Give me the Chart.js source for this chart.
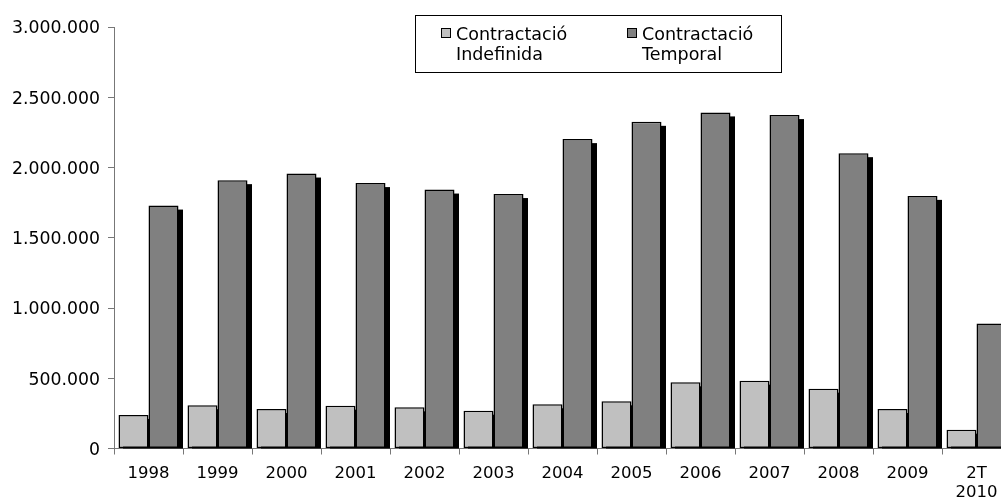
<!DOCTYPE html>
<html>
<head>
<meta charset="utf-8">
<script src="https://cdn.jsdelivr.net/npm/chart.js@4.4.1/dist/chart.umd.min.js"></script>
<style>
  html, body { margin: 0; padding: 0; background: #fff; overflow: hidden; }
  #wrap { width: 1012px; height: 502px; }
</style>
</head>
<body>
<div id="wrap"><canvas id="chart" width="1012" height="502"></canvas></div>
<script>
const years = ["1998", "1999", "2000", "2001", "2002", "2003", "2004", "2005", "2006", "2007", "2008", "2009", ["2T", "2010"]];
const indefinida = [239000, 308000, 281000, 305000, 293000, 269000, 315000, 336000, 471000, 483000, 426000, 281000, 134000];
const temporal = [1729000, 1910000, 1957000, 1889000, 1843000, 1811000, 2202000, 2325000, 2392000, 2373000, 2102000, 1798000, 889000];
const seriesNames = [["Contractació", "Indefinida"], ["Contractació", "Temporal"]];
const seriesColors = ["#c0c0c0", "#808080"];

const FONT = "'DejaVu Sans', Verdana, sans-serif";
const AXIS = "#777";

// black drop shadow behind each bar, like the old Excel look
const barShadow = {
  id: "barShadow",
  beforeDatasetsDraw(chart) {
    const { ctx, chartArea } = chart;
    ctx.save();
    ctx.beginPath();
    ctx.rect(chartArea.left, chartArea.top, chartArea.right - chartArea.left, chartArea.bottom - chartArea.top);
    ctx.clip();
    ctx.fillStyle = "#000";
    chart.data.datasets.forEach((ds, i) => {
      chart.getDatasetMeta(i).data.forEach((bar) => {
        const { x, y, base, width } = bar.getProps(["x", "y", "base", "width"], true);
        ctx.fillRect(x - width / 2 + 4.5, y + 4, width, base - y);
      });
    });
    ctx.restore();
  },
};

// boxed legend with two-line labels
const boxLegend = {
  id: "boxLegend",
  afterDraw(chart) {
    const { ctx } = chart;
    ctx.save();
    ctx.strokeStyle = "#000";
    ctx.lineWidth = 1;
    ctx.strokeRect(415.5, 15.5, 366, 57);
    ctx.font = "17.5px " + FONT;
    ctx.textBaseline = "alphabetic";
    const starts = [441, 627];
    chart.data.datasets.forEach((ds, i) => {
      const x = starts[i];
      ctx.fillStyle = ds.backgroundColor;
      ctx.fillRect(x + 0.5, 28.5, 9, 9);
      ctx.strokeStyle = "#000";
      ctx.strokeRect(x + 0.5, 28.5, 9, 9);
      ctx.fillStyle = "#000";
      ds.label.forEach((line, j) => ctx.fillText(line, x + 15, 39.5 + j * 20));
    });
    ctx.restore();
  },
};

new Chart(document.getElementById("chart"), {
  type: "bar",
  data: {
    labels: years,
    datasets: [
      {
        label: seriesNames[0],
        data: indefinida,
        backgroundColor: seriesColors[0],
        borderColor: "#000",
        borderWidth: 1.5,
        borderSkipped: false,
      },
      {
        label: seriesNames[1],
        data: temporal,
        backgroundColor: seriesColors[1],
        borderColor: "#000",
        borderWidth: 1.5,
        borderSkipped: false,
      },
    ],
  },
  options: {
    responsive: false,
    animation: false,
    layout: { padding: { top: 27, right: 1, left: 0, bottom: 0 } },
    plugins: {
      legend: { display: false },
      tooltip: { enabled: false },
    },
    datasets: {
      bar: { categoryPercentage: 0.8696, barPercentage: 1 },
    },
    scales: {
      x: {
        grid: { display: true, drawOnChartArea: false, color: AXIS, tickLength: 6, offset: true },
        border: { display: true, color: AXIS, width: 1 },
        ticks: { color: "#000", font: { family: FONT, size: 16.5 }, padding: 9, maxRotation: 0, autoSkip: false },
        afterFit(scale) { scale.height = 53.5; },
      },
      y: {
        min: 0,
        max: 3000000,
        grid: { display: true, drawOnChartArea: false, color: AXIS, tickLength: 6 },
        border: { display: true, color: AXIS, width: 1 },
        ticks: {
          stepSize: 500000,
          color: "#000",
          font: { family: FONT, size: 17.3 },
          padding: 8,
          labelOffset: 2,
          callback: (v) => String(v).replace(/\B(?=(\d{3})+(?!\d))/g, "."),
        },
        afterFit(scale) { scale.width = 114; },
      },
    },
  },
  plugins: [barShadow, boxLegend],
});
</script>
</body>
</html>
